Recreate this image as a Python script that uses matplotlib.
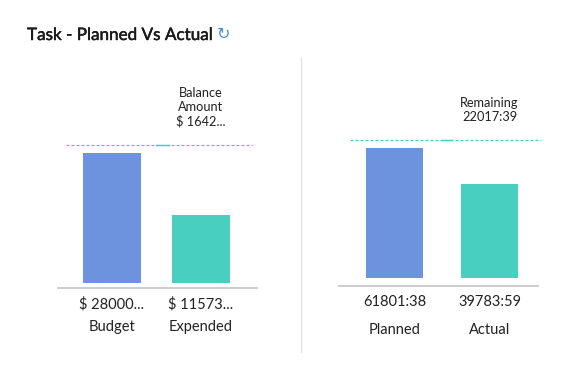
import matplotlib.pyplot as plt
from matplotlib.lines import Line2D
import matplotlib.patheffects as pe

# data
cost_labels = ['Budget', 'Expended']
cost_values = [280000, 115730]
cost_texts = ['$ 28000...', '$ 11573...']
cost_note = 'Balance\nAmount\n$ 1642...'

time_labels = ['Planned', 'Actual']
time_values = [61801.63, 39783.98]
time_texts = ['61801:38', '39783:59']
time_note = 'Remaining\n22017:39'

BLUE = '#6d93de'
TEAL = '#48cfc0'
GREY = '#c9c9c9'
TXT = '#222222'
W, H = 564, 376

plt.rcParams['font.family'] = ['Lato', 'DejaVu Sans']

fig = plt.figure(figsize=(W / 100, H / 100), dpi=100)


def px_axes(x0, x1, ybase, ytop):
    return fig.add_axes([x0 / W, (H - ybase) / H, (x1 - x0) / W, (ybase - ytop) / H])


def panel(ax, labels, values, texts, note, floor, ylim, xlim, width,
          line_span, solid_span, val_off, cat_off):
    xs = range(len(values))
    ax.bar(xs, [v - floor for v in values], bottom=floor, width=width,
           color=[BLUE, TEAL])
    ax.set_xlim(*xlim)
    ax.set_ylim(*ylim)
    for s in ['top', 'left', 'right']:
        ax.spines[s].set_visible(False)
    ax.spines['bottom'].set_color(GREY)
    ax.spines['bottom'].set_linewidth(1.3)
    ax.set_xticks([])
    ax.set_yticks([])
    ax.patch.set_alpha(0)

    ref = max(values) * 1.076
    tr = ax.get_yaxis_transform()
    ax.plot(line_span, [ref, ref], transform=tr, color=TEAL, lw=0.9,
            ls=(0, (2.4, 1.6)), clip_on=False)
    ax.plot(solid_span, [ref, ref], transform=tr, color=TEAL, lw=1.0,
            clip_on=False)

    ax.annotate(note, xy=(1, ref), xytext=(0, 12.5), textcoords='offset points',
                ha='center', va='bottom', fontsize=9.2, color=TXT,
                linespacing=1.2)

    bt = ax.get_xaxis_transform()
    for i in xs:
        ax.annotate(texts[i], xy=(i, 0), xycoords=bt, xytext=(0, -val_off),
                    textcoords='offset points', ha='center', va='center',
                    fontsize=10.5, color=TXT)
        ax.annotate(labels[i], xy=(i, 0), xycoords=bt, xytext=(0, -cat_off),
                    textcoords='offset points', ha='center', va='center',
                    fontsize=10.5, color=TXT)


ax1 = px_axes(58, 257, 288, 80)
panel(ax1, cost_labels, cost_values, cost_texts, cost_note,
      floor=-64450, ylim=(-77700, 473440), xlim=(-0.6, 1.63), width=0.65,
      line_span=[0.04, 0.975], solid_span=[0.49, 0.56], val_off=11.5, cat_off=28)

ax2 = px_axes(339, 538, 286, 80)
panel(ax2, time_labels, time_values, time_texts, time_note,
      floor=-17706, ylim=(-22600, 103400), xlim=(-0.584, 1.51), width=0.6,
      line_span=[0.055, 1.015], solid_span=[0.52, 0.57], val_off=11.5, cat_off=31.5)

# divider
fig.add_artist(Line2D([301 / W, 301 / W], [1 - 58 / H, 1 - 352 / H],
                      color='#e3e3e3', lw=1))

fig.text(27 / W, 1 - 35 / H, 'Task - Planned Vs Actual', fontsize=12.3,
         color='#1a1a1a', va='center', ha='left',
         path_effects=[pe.withStroke(linewidth=0.35, foreground='#1a1a1a')])
fig.text(223 / W, 1 - 34.5 / H, '\u21bb', fontsize=11.5, color='#3d8ce0',
         va='center', ha='center', family='DejaVu Sans')

fig.savefig('out.png', dpi=100, facecolor='white')
